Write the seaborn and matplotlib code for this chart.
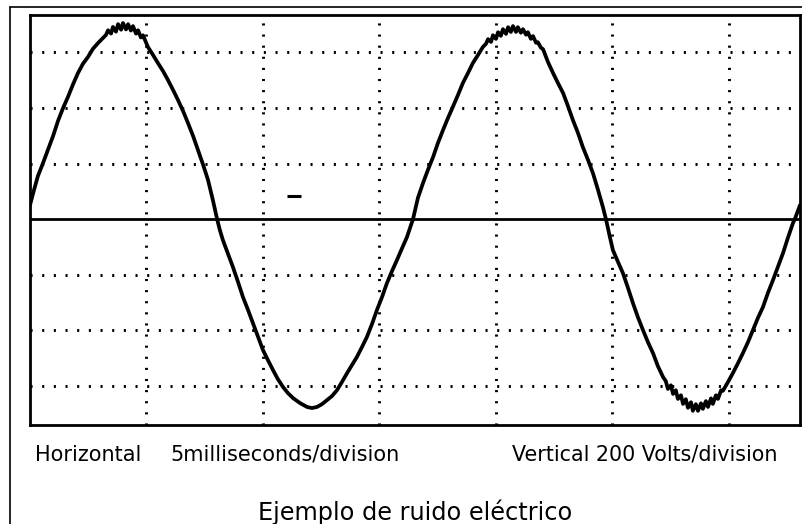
import matplotlib
matplotlib.use("Agg")
import matplotlib.pyplot as plt
import seaborn as sns
import pandas as pd
from matplotlib.lines import Line2D

# ---- data (time in ms, voltage in V) ----
t_ms = [0.00, 0.17, 0.34, 0.56, 0.77, 0.99, 1.20, 1.42, 1.63, 1.85, 2.06, 2.27, 2.49, 2.70, 2.92, 3.13,
        3.26, 3.35, 3.48, 3.56, 3.69, 3.78, 3.91, 3.99, 4.12, 4.21, 4.33, 4.42, 4.55, 4.64, 4.76, 4.85, 4.98,
        5.06, 5.28, 5.49, 5.71, 5.92, 6.14, 6.35, 6.57, 6.78, 7.00, 7.21, 7.42, 7.64, 7.85, 8.03,
        8.15, 8.28, 8.50, 8.71, 8.93, 9.14, 9.36, 9.57, 9.79, 10.00, 10.21, 10.43, 10.64, 10.86, 11.07,
        11.29, 11.59, 11.89, 12.10, 12.32, 12.53, 12.75, 12.96, 13.18, 13.39, 13.61, 13.82, 14.03, 14.25,
        14.46, 14.68, 14.89, 15.11, 15.32, 15.54, 15.75, 15.97, 16.18, 16.31, 16.44,
        16.65, 16.87, 17.08, 17.30, 17.51, 17.73, 17.94, 18.15, 18.37, 18.58, 18.80, 19.01, 19.23, 19.44,
        19.57, 19.66, 19.79, 19.87, 20.00, 20.09, 20.21, 20.30, 20.43, 20.52, 20.64, 20.73, 20.86, 20.94,
        21.07, 21.16, 21.29, 21.37, 21.50, 21.59, 21.72, 21.80, 21.93, 22.02,
        22.23, 22.45, 22.66, 22.88, 23.09, 23.30, 23.52, 23.73, 23.95, 24.16, 24.38, 24.59, 24.72, 24.89,
        25.02, 25.24, 25.45, 25.67, 25.88, 26.09, 26.31, 26.52, 26.74, 26.95, 27.17,
        27.29, 27.38, 27.51, 27.60, 27.72, 27.81, 27.94, 28.03, 28.15, 28.24, 28.37, 28.45, 28.58, 28.67,
        28.80, 28.88, 29.01, 29.10, 29.23, 29.31, 29.44, 29.53, 29.66, 29.74,
        29.96, 30.17, 30.39, 30.60, 30.82, 31.03, 31.24, 31.46, 31.67, 31.89, 32.10, 32.32, 32.53, 32.75,
        32.83, 33.05]

volts = [50, 104, 155, 202, 249, 299, 353, 400, 440, 486, 526, 559, 584, 613, 634, 652,
         663, 680, 668, 692, 675, 702, 682, 706, 683, 702, 679, 695, 668, 680, 654, 662, 636,
         620, 591, 562, 533, 501, 465, 429, 389, 346, 299, 249, 198, 141, 68, 0,
         -40, -76, -126, -173, -227, -281, -328, -375, -425, -472, -508, -544, -577, -605, -627,
         -645, -663, -677, -681, -677, -667, -652, -638, -616, -587, -555, -526, -497, -461,
         -425, -378, -328, -281, -231, -187, -148, -105, -65, -32, 0,
         76, 130, 177, 223, 274, 321, 364, 404, 447, 490, 526, 562, 591, 620,
         631, 648, 638, 662, 649, 673, 660, 684, 667, 691, 674, 695, 674, 691,
         671, 684, 664, 673, 649, 659, 635, 637, 617, 612,
         566, 526, 490, 454, 407, 357, 310, 259, 213, 166, 105, 43, 0, -65,
         -112, -155, -195, -249, -303, -353, -400, -443, -483, -530, -569,
         -584, -612, -599, -630, -617, -648, -635, -666, -649, -680, -660, -691, -667, -691,
         -664, -684, -656, -677, -646, -666, -635, -648, -617, -619,
         -587, -555, -519, -483, -443, -400, -357, -317, -267, -220, -173, -123, -68, -14,
         0, 50]

time_grid = [5, 10, 15, 20, 25, 30]          # 5 ms / division
volt_grid = [-600, -400, -200, 200, 400, 600]  # 200 V / division
trace_mark_t = [11.31]
trace_mark_v = [83]

label_h = "Horizontal"
label_time = "5milliseconds/division"
label_vert = "Vertical 200 Volts/division"
title = "Ejemplo de ruido eléctrico"

# ---- style ----
sns.set_theme(style="white")
plt.rcParams["font.family"] = ["DejaVu Sans"]
plt.rcParams["lines.scale_dashes"] = False

fig = plt.figure(figsize=(8.03, 5.24), dpi=100)
fig.patch.set_facecolor("white")
ax = fig.add_axes([30 / 803, 99 / 524, 770 / 803, 410 / 524])
ax.set_facecolor("white")

df = pd.DataFrame({"t": t_ms, "v": volts})
sns.lineplot(data=df, x="t", y="v", ax=ax, color="black", lw=2.7,
             sort=False, estimator=None, zorder=5)

ax.set_xlim(0, 33.05)
ax.set_ylim(-742, 735)
ax.set_xticks(time_grid)
ax.set_yticks(volt_grid)
ax.tick_params(length=0, labelbottom=False, labelleft=False)
ax.set_xlabel("")
ax.set_ylabel("")
ax.set_axisbelow(True)
ax.xaxis.grid(True, color="black", lw=2.1, dashes=(1.5, 6.5))
ax.yaxis.grid(True, color="black", lw=2.1, dashes=(1.5, 6.9))
ax.axhline(0, color="black", lw=2.0, zorder=4)

ax.plot(trace_mark_t, trace_mark_v, marker="_", ms=10, mew=2.2, color="black", ls="none")

for s in ax.spines.values():
    s.set_visible(True)
    s.set_color("black")
    s.set_linewidth(2.0)

# outer frame (left and top)
fig.add_artist(Line2D([10 / 803, 10 / 803], [0, 1 - 7 / 524], transform=fig.transFigure,
                      color="black", lw=1.2))
fig.add_artist(Line2D([10 / 803, 1], [1 - 7 / 524, 1 - 7 / 524], transform=fig.transFigure,
                      color="black", lw=1.2))

fig.text(35 / 803, (524 - 461) / 524, label_h, fontsize=15, color="black",
         ha="left", va="baseline")
fig.text(170 / 803, (524 - 461) / 524, label_time, fontsize=15, color="black",
         ha="left", va="baseline")
fig.text(512 / 803, (524 - 460) / 524, label_vert, fontsize=14.9, color="black",
         ha="left", va="baseline")
fig.text(415 / 803, (524 - 520) / 524, title, fontsize=17.3, color="black",
         ha="center", va="baseline")

fig.savefig("out.png", dpi=100, facecolor="white")
